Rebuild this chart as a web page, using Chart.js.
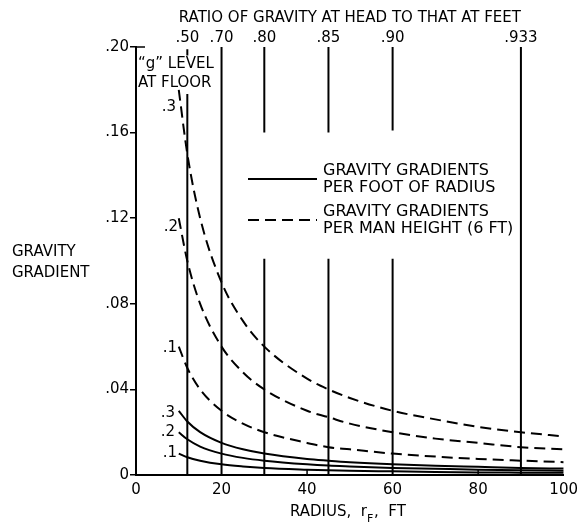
<!DOCTYPE html>
<html><head><meta charset="utf-8">
<script src="https://cdn.jsdelivr.net/npm/chart.js@4.4.1/dist/chart.umd.min.js"></script>
<style>html,body{margin:0;padding:0;background:#fff;}#wrap{width:584px;height:525px;}</style>
</head><body><div id="wrap"><canvas id="c" width="584" height="525"></canvas></div>
<script>
// ---- data ----
const radius = [10, 12, 15, 20, 25, 30, 40, 45, 50, 60, 70, 80, 90, 100];
// gravity gradient per man height (6 ft), g level at floor .3 / .2 / .1
const perManHeight3 = [0.180, 0.150, 0.120, 0.090, 0.072, 0.060, 0.045, 0.040, 0.036, 0.030, 0.026, 0.0225, 0.020, 0.018];
const perManHeight2 = [0.120, 0.100, 0.080, 0.060, 0.048, 0.040, 0.030, 0.027, 0.024, 0.020, 0.017, 0.015, 0.013, 0.012];
const perManHeight1 = [0.060, 0.050, 0.040, 0.030, 0.024, 0.020, 0.015, 0.013, 0.012, 0.010, 0.0086, 0.0075, 0.0067, 0.006];
// gravity gradient per foot of radius
const perFoot3 = [0.030, 0.025, 0.020, 0.015, 0.012, 0.010, 0.0075, 0.0067, 0.006, 0.005, 0.0043, 0.0038, 0.0033, 0.003];
const perFoot2 = [0.020, 0.0167, 0.0133, 0.010, 0.008, 0.0067, 0.005, 0.0044, 0.004, 0.0033, 0.0029, 0.0025, 0.0022, 0.002];
const perFoot1 = [0.010, 0.0083, 0.0067, 0.005, 0.004, 0.0033, 0.0025, 0.0022, 0.002, 0.0017, 0.0014, 0.0012, 0.0011, 0.001];
const gLevelLabels = ['.3', '.2', '.1'];
// ratio of gravity at head to that at feet: radius of each vertical line and its label
const ratioRadius = [12, 20, 30, 45, 60, 90];
const ratioLabels = ['.50', '.70', '.80', '.85', '.90', '.933'];
// visible vertical extents (gravity gradient units) of each ratio line
const ratioSegments = [
  [[0, 0.178], [0.196, 0.199]],
  [[0, 0.2]],
  [[0, 0.101], [0.160, 0.2]],
  [[0, 0.101], [0.160, 0.2]],
  [[0, 0.101], [0.161, 0.2]],
  [[0, 0.2]]
];
const yTickValues = [0, 0.04, 0.08, 0.12, 0.16, 0.20];
const xTickValues = [0, 20, 40, 60, 80, 100];

const FONT = '"DejaVu Sans", "Liberation Sans", Arial, sans-serif';
Chart.defaults.font.family = FONT;
Chart.defaults.color = '#000';

const pts = arr => radius.map((r, i) => ({x: r, y: arr[i]}));
const DASH = [11, 6];
const curve = (label, arr, dashed) => ({
  label, data: pts(arr), showLine: true, borderColor: '#000', borderWidth: 2,
  borderDash: dashed ? DASH : [], pointRadius: 0, tension: 0.4, fill: false,
  cubicInterpolationMode: 'monotone'
});

const datasets = [
  curve('man .3', perManHeight3, true),
  curve('man .2', perManHeight2, true),
  curve('man .1', perManHeight1, true),
  curve('foot .3', perFoot3, false),
  curve('foot .2', perFoot2, false),
  curve('foot .1', perFoot1, false)
];
ratioRadius.forEach((r, i) => {
  const d = [];
  ratioSegments[i].forEach((s, k) => {
    if (k) d.push({x: r, y: null});
    d.push({x: r, y: s[0]}, {x: r, y: s[1]});
  });
  datasets.push({label: 'ratio ' + ratioLabels[i], data: d, showLine: true, spanGaps: false,
    borderColor: '#000', borderWidth: 2, pointRadius: 0, tension: 0});
});

const annot = {
  id: 'annot',
  beforeDraw(chart) {
    const c = chart.ctx; c.save(); c.fillStyle = '#fff';
    c.fillRect(0, 0, chart.width, chart.height); c.restore();
  },
  afterDraw(chart) {
    const c = chart.ctx, xs = chart.scales.x, ys = chart.scales.y;
    c.save();
    c.fillStyle = '#000'; c.strokeStyle = '#000';
    c.textBaseline = 'middle';
    c.font = '15px ' + FONT;
    // y title
    c.textAlign = 'left';
    c.fillText('GRAVITY', 12, 252);
    c.fillText('GRADIENT', 12, 273);
    // g level at floor
    c.fillText('\u201Cg\u201D LEVEL', 138, 64);
    c.fillText('AT FLOOR', 138, 83);
    // curve labels
    c.textAlign = 'center';
    const lblPos = [[169, 107], [171, 227], [170, 348], [168, 413], [168, 432], [170, 453]];
    lblPos.forEach((p, i) => c.fillText(gLevelLabels[i % 3], p[0], p[1]));
    // legend
    c.lineWidth = 2;
    c.beginPath(); c.setLineDash([]); c.moveTo(248, 179); c.lineTo(317, 179); c.stroke();
    c.beginPath(); c.setLineDash(DASH); c.moveTo(248, 220); c.lineTo(317, 220); c.stroke();
    c.setLineDash([]);
    c.textAlign = 'left';
    c.font = '16px ' + FONT;
    c.fillText('GRAVITY GRADIENTS', 323, 171);
    c.fillText('PER FOOT OF RADIUS', 323, 188);
    c.fillText('GRAVITY GRADIENTS', 323, 212);
    c.fillText('PER MAN HEIGHT (6 FT)', 323, 229);
    // x title with subscript
    c.font = '15px ' + FONT;
    c.textAlign = 'right';
    c.fillText('RADIUS,  r', 367, 512);
    c.textAlign = 'left';
    c.font = '11px ' + FONT;
    c.fillText('F', 367, 519);
    c.font = '15px ' + FONT;
    c.fillText(',  FT', 374, 512);
    // small inward ticks
    c.lineWidth = 1.5;
    [40, 80].forEach(v => {
      const px = xs.getPixelForValue(v);
      c.beginPath(); c.moveTo(px, ys.bottom); c.lineTo(px, ys.bottom - 6); c.stroke();
    });
    c.beginPath(); c.moveTo(xs.left, ys.top); c.lineTo(xs.left + 9, ys.top); c.stroke();
    c.restore();
  }
};

new Chart(document.getElementById('c'), {
  type: 'scatter',
  data: {datasets},
  plugins: [annot],
  options: {
    responsive: false, devicePixelRatio: 1, animation: false,
    layout: {padding: {left: 0, right: 19, top: 0, bottom: 0}},
    plugins: {legend: {display: false}, tooltip: {enabled: false}},
    scales: {
      x: {
        type: 'linear', position: 'bottom', min: 0, max: 100,
        afterBuildTicks: s => { s.ticks = xTickValues.map(v => ({value: v})); },
        ticks: {font: {size: 15}, color: '#000', padding: 6, maxRotation: 0, autoSkip: false},
        grid: {display: false, drawTicks: false},
        border: {display: true, color: '#000', width: 2},
        afterFit: s => { s.height = 50; }
      },
      x2: {
        type: 'linear', position: 'top', min: 0, max: 100,
        afterBuildTicks: s => { s.ticks = ratioRadius.map(v => ({value: v})); },
        ticks: {font: {size: 15}, color: '#000', padding: 0, maxRotation: 0, autoSkip: false,
          callback: (v, i) => ratioLabels[i]},
        grid: {display: false, drawTicks: false},
        border: {display: false},
        title: {display: true, text: 'RATIO OF GRAVITY AT HEAD TO THAT AT FEET',
          font: {size: 15}, color: '#000', padding: {top: 9, bottom: 0}},
        afterFit: s => { s.height = 47; }
      },
      y: {
        type: 'linear', position: 'left', min: 0, max: 0.2,
        afterBuildTicks: s => { s.ticks = yTickValues.map(v => ({value: v})); },
        ticks: {font: {size: 15}, color: '#000', padding: 1,
          callback: v => v === 0 ? '0' : (Math.round(v * 100) / 100).toFixed(2).replace(/^0/, '')},
        grid: {display: true, drawOnChartArea: false, tickLength: 6, color: '#000', lineWidth: 1.5},
        border: {display: true, color: '#000', width: 2},
        afterFit: s => { s.height; s.width = 136; }
      }
    }
  }
});
</script></body></html>
